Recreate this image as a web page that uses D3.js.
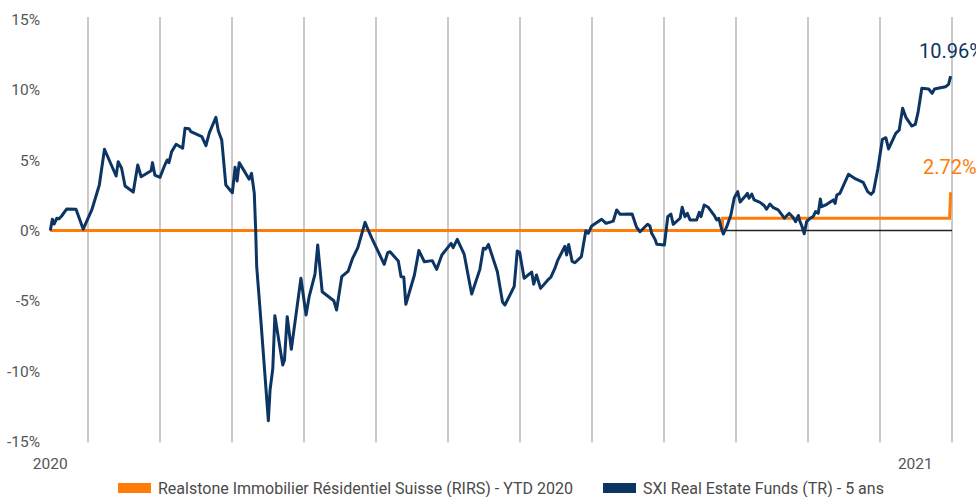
<!DOCTYPE html>
<html>
<head>
<meta charset="utf-8">
<script src="https://cdn.jsdelivr.net/npm/d3@7"></script>
<style>
  html, body { margin: 0; padding: 0; background: #fff; }
  svg { display: block; font-family: Roboto, "Noto Sans", sans-serif; }
</style>
</head>
<body>
<svg id="chart" width="976" height="497"></svg>
<script>
// ---- data (x = trading-day index, y = performance in %) ----
const sxiIndex = [0,0.6,1.1,1.9,2.5,3.3,4.8,7.5,9.6,12.1,14.3,15.8,19.2,19.8,20.8,21.8,24.2,25.5,26.5,29.4,29.8,30.5,32.0,33.4,34.1,34.6,35.4,36.7,38.6,39.3,40.5,41.0,44.2,45.4,46.4,48.3,49.0,50.0,51.2,53.1,53.9,54.5,55.1,58.0,58.7,59.5,59.9,60.2,61.2,63.6,64.1,64.9,65.5,67.8,68.3,69.1,70.3,73.1,74.6,75.5,77.2,78.0,79.3,82.7,83.5,85.0,86.9,88.1,89.7,91.8,92.6,93.7,97.4,98.4,99.1,101.5,102.3,103.1,103.7,106.2,107.5,109.1,111.4,112.7,114.2,116.9,117.5,118.7,120.7,122.9,125.3,126.3,127.0,127.8,130.4,131.9,132.6,135.3,136.2,136.9,138.2,140.4,141.0,141.8,143.0,145.3,146.0,147.2,148.0,150.1,150.6,151.2,152.2,153.0,154.9,156.2,156.9,157.9,160.8,162.1,164.2,165.2,166.2,169.7,171.0,172.0,174.2,174.9,175.4,176.4,176.9,179.1,180.1,181.0,181.7,183.7,184.3,185.1,185.8,186.6,188.5,189.3,189.8,190.7,191.9,193.7,194.4,195.0,195.6,196.3,197.3,198.5,199.5,200.5,201.2,202.6,203.3,203.8,204.6,205.3,207.0,208.2,208.9,209.9,210.9,212.3,213.3,214.1,215.5,216.5,217.4,218.2,218.5,219.2,219.9,220.6,221.6,222.5,223.2,224.0,224.6,225.0,226.5,228.4,228.9,229.4,230.3,232.8,233.9,234.9,237.1,238.4,239.4,240.1,241.4,242.7,243.7,244.5,246.6,247.6,248.6,249.6,251.3,252.3,253.1,254.2,256.2,257.2,257.9,261.1,262.0,262.6];
const sxiValue = [0,0.80,0.46,0.87,0.82,1.03,1.53,1.51,0.09,1.46,3.23,5.77,3.87,4.89,4.42,3.16,2.73,4.65,3.82,4.25,4.82,3.94,3.78,4.65,5.01,4.82,5.60,6.12,5.84,7.26,7.22,7.02,6.66,6.02,6.95,8.04,7.09,6.43,3.23,2.68,4.49,3.52,4.82,3.64,4.06,2.64,0.04,-2.57,-5.68,-13.51,-11.33,-9.79,-6.05,-9.55,-9.20,-6.12,-8.44,-3.39,-6.00,-4.70,-3.09,-1.03,-4.35,-4.99,-5.65,-3.28,-2.88,-2.02,-1.22,0.58,0.11,-0.51,-2.40,-1.58,-1.51,-2.17,-3.28,-3.30,-5.24,-3.16,-1.42,-2.22,-2.14,-2.76,-1.74,-0.91,-1.22,-0.63,-1.67,-4.51,-2.76,-1.26,-1.31,-0.99,-2.93,-5.08,-5.29,-3.98,-1.46,-1.55,-3.39,-2.95,-3.81,-3.16,-4.11,-3.47,-3.32,-2.68,-2.12,-1.12,-1.74,-1.00,-2.19,-2.29,-1.85,-0.01,-0.20,0.32,0.80,0.51,0.67,1.46,1.15,1.17,0.23,-0.09,0.44,0.32,-0.20,-0.63,-0.98,-1.03,0.98,1.17,0.44,0.87,1.65,0.98,1.22,0.75,0.75,1.29,0.98,1.81,1.65,1.05,0.75,0.87,0.27,-0.25,0.27,1.10,2.33,2.76,2.02,2.41,2.64,2.29,2.59,2.17,2.00,1.78,1.51,1.88,1.62,1.46,1.15,0.87,1.22,0.98,0.63,1.07,0.75,0.32,-0.23,0.63,0.87,0.98,1.34,1.22,2.24,1.69,1.86,2.17,1.93,2.52,2.64,3.99,3.82,3.66,3.42,2.76,2.57,2.76,4.42,6.48,6.59,5.79,6.90,7.14,8.68,8.01,7.42,7.54,8.39,10.10,10.05,9.74,10.05,10.21,10.38,10.96];

const rirsIndex = [0, 196.0, 196.1, 262.3, 262.6];
const rirsValue = [0, 0, 0.87, 0.87, 2.72];

const yTicks = [15, 10, 5, 0, -5, -10, -15];
const gridIndex = [11, 32, 53, 74, 95, 116, 137, 158, 179, 200, 221, 242, 263];
const yearLabels = ["2020", "2021"];
const yearIndex = [0, 252.3];

const seriesNames = ["Realstone Immobilier Résidentiel Suisse (RIRS) - YTD 2020", "SXI Real Estate Funds (TR) - 5 ans"];
const endLabels = ["2.72%", "10.96%"];

// ---- styles ----
const NAVY = "#0c3563";
const ORANGE = "#ff7b0a";
const GRID = "#cacaca";
const TEXT = "#555555";

const svg = d3.select("#chart");

const x = d3.scaleLinear().domain([0, 263]).range([50.3, 952]);
const y = d3.scaleLinear().domain([-15, 15]).range([441.7, 19.3]);

// vertical gridlines
svg.append("g").selectAll("line").data(gridIndex).join("line")
  .attr("x1", d => x(d)).attr("x2", d => x(d))
  .attr("y1", 17).attr("y2", 442.5)
  .attr("stroke", GRID).attr("stroke-width", 2);

// y axis labels
const yAxis = d3.axisLeft(y).tickValues(yTicks).tickSize(0).tickPadding(0)
  .tickFormat(d => d + "%");
svg.append("g").attr("transform", "translate(40,0)").call(yAxis)
  .call(g => g.select(".domain").remove())
  .call(g => g.selectAll("text").attr("fill", TEXT).attr("font-size", 15.5)
    .attr("font-family", "Roboto, sans-serif"));

// x year labels
svg.append("g").selectAll("text").data(yearLabels).join("text")
  .attr("x", (d, i) => x(yearIndex[i])).attr("y", 468.5)
  .attr("text-anchor", "middle").attr("fill", TEXT).attr("font-size", 15.5)
  .text(d => d);

// zero line
svg.append("line").attr("x1", x(0)).attr("x2", x(263))
  .attr("y1", y(0)).attr("y2", y(0)).attr("stroke", "#222").attr("stroke-width", 1.6);

const line = d3.line().x(d => x(d[0])).y(d => y(d[1]));

// RIRS
svg.append("path")
  .datum(rirsIndex.map((d, i) => [d, rirsValue[i]]))
  .attr("d", line).attr("fill", "none").attr("stroke", ORANGE)
  .attr("stroke-width", 3).attr("stroke-linejoin", "miter");

// SXI
svg.append("path")
  .datum(sxiIndex.map((d, i) => [d, sxiValue[i]]))
  .attr("d", line).attr("fill", "none").attr("stroke", NAVY)
  .attr("stroke-width", 3).attr("stroke-linejoin", "round");

// end labels
svg.append("text").attr("x", 923).attr("y", 173.5).attr("fill", ORANGE)
  .attr("font-size", 20).text(endLabels[0]);
svg.append("text").attr("x", 919).attr("y", 57.5).attr("fill", NAVY)
  .attr("font-size", 20).text(endLabels[1]);

// legend
const legendX = [118, 603];
const legendColors = [ORANGE, NAVY];
const lg = svg.append("g");
seriesNames.forEach((name, i) => {
  lg.append("rect").attr("x", legendX[i]).attr("y", 483).attr("width", 33).attr("height", 10)
    .attr("fill", legendColors[i]);
  lg.append("text").attr("x", legendX[i] + 40).attr("y", 494).attr("fill", "#4a4a4a")
    .attr("font-size", 16).text(name);
});
</script>
</body>
</html>
